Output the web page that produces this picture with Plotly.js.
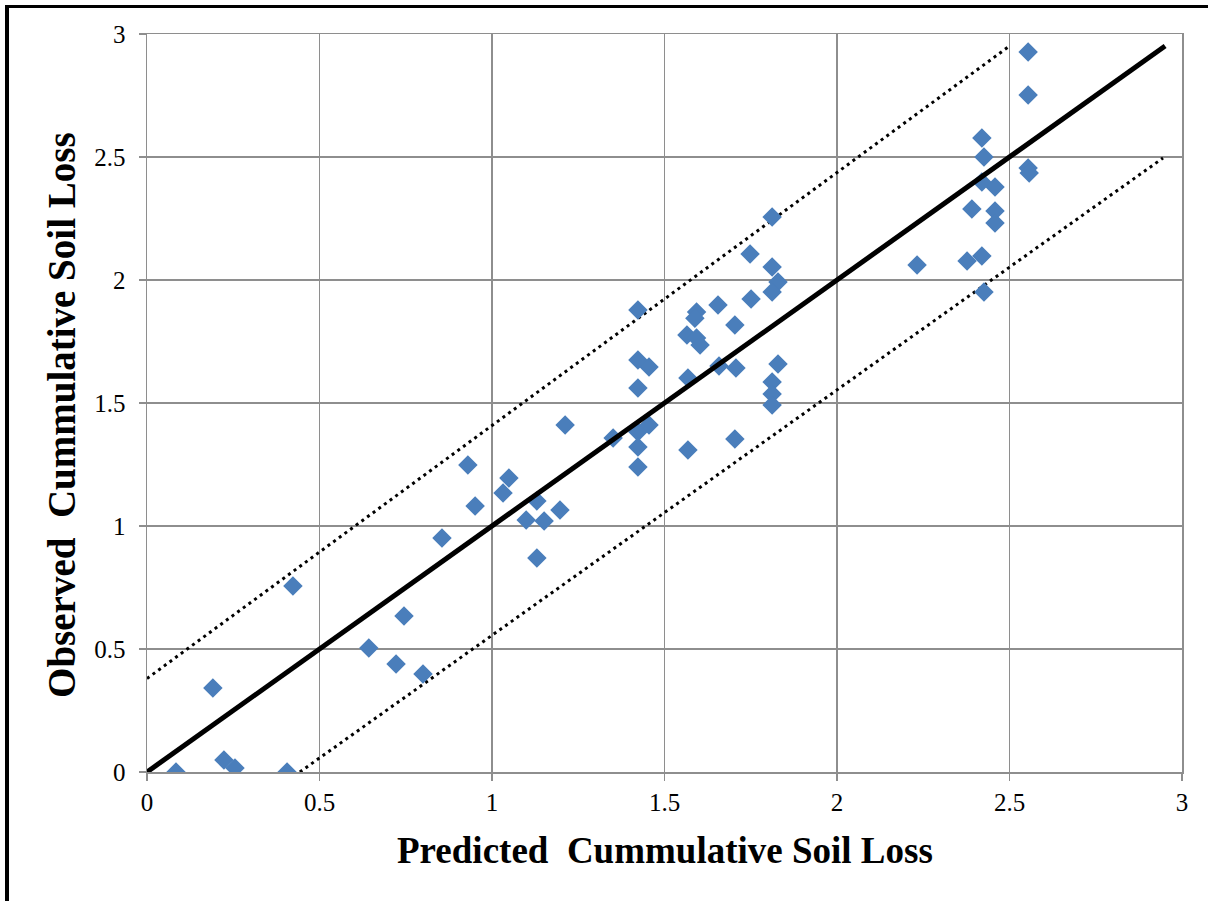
<!DOCTYPE html>
<html>
<head>
<meta charset="utf-8">
<script src="https://cdn.plot.ly/plotly-3.0.1.min.js"></script>
<style>
html,body{margin:0;padding:0;background:#fff;}
#wrap{position:relative;width:1208px;height:901px;overflow:hidden;}
#chart{position:absolute;left:0;top:0;width:1208px;height:901px;}
#frame{position:absolute;left:5px;top:5px;width:1220px;height:920px;border-left:4px solid #000;border-top:3px solid #000;pointer-events:none;}
</style>
</head>
<body>
<div id="wrap"><div id="chart"></div><div id="frame"></div></div>
<script>
// Observed vs predicted cumulative soil loss
const predicted = [0.084,0.191,0.223,0.255,0.406,0.423,0.643,0.722,0.745,0.800,0.855,0.930,0.951,1.032,1.049,1.099,1.130,1.130,1.151,1.197,1.212,1.351,1.423,1.423,1.423,1.423,1.423,1.423,1.455,1.455,1.568,1.568,1.565,1.593,1.588,1.593,1.603,1.655,1.704,1.658,1.707,1.704,1.751,1.748,1.812,1.812,1.829,1.812,1.829,1.812,1.812,1.812,2.232,2.377,2.391,2.420,2.426,2.420,2.458,2.458,2.458,2.420,2.426,2.554,2.554,2.554,2.557];
const observed  = [0.000,0.341,0.049,0.016,0.000,0.756,0.504,0.439,0.634,0.398,0.951,1.248,1.081,1.134,1.195,1.024,1.102,0.870,1.020,1.065,1.411,1.358,1.878,1.675,1.561,1.382,1.321,1.240,1.646,1.411,1.602,1.309,1.776,1.870,1.845,1.764,1.736,1.898,1.817,1.650,1.642,1.354,1.923,2.106,2.256,2.053,1.992,1.951,1.659,1.585,1.537,1.492,2.061,2.077,2.289,2.577,2.500,2.398,2.378,2.280,2.232,2.098,1.951,2.927,2.752,2.455,2.435];
// 1:1 line and upper / lower bounds (endpoints)
const lineX  = [0, 2.951];
const lineY  = [0, 2.951];
const upperX = [0, 2.496];
const upperY = [0.38, 2.947];
const lowerX = [0.443, 2.945];
const lowerY = [0, 2.496];
const tickVals = [0,0.5,1,1.5,2,2.5,3];
const tickText = ['0','0.5','1','1.5','2','2.5','3'];
const xTitle = 'Predicted\u00a0\u00a0Cummulative Soil Loss';
const yTitle = 'Observed\u00a0\u00a0Cummulative Soil Loss';

const traces = [
  {x: upperX, y: upperY, mode:'lines', line:{color:'#000', width:3, dash:'3px,4px'}, hoverinfo:'skip'},
  {x: lowerX, y: lowerY, mode:'lines', line:{color:'#000', width:3, dash:'3px,4px'}, hoverinfo:'skip'},
  {x: predicted, y: observed, mode:'markers', marker:{symbol:'diamond', size:15, color:'#4a7ebb'}},
  {x: lineX, y: lineY, mode:'lines', line:{color:'#000', width:5}, hoverinfo:'skip'}
];

const serif = '"Liberation Serif", "Times New Roman", serif';

const layout = {
  width:1208, height:901,
  margin:{l:147, r:26, t:34, b:129, pad:0},
  paper_bgcolor:'#fff', plot_bgcolor:'#fff',
  showlegend:false,
  xaxis:{
    range:[0,3], tickvals:tickVals, ticktext:tickText,
    showgrid:true, gridcolor:'#8e8e8e', gridwidth:1.5,
    showline:true, linecolor:'#8e8e8e', linewidth:1.5, mirror:true,
    ticks:'outside', ticklen:7, tickcolor:'#8e8e8e', tickwidth:1.5,
    tickfont:{family:serif, size:25, color:'#000'}, zeroline:false,
    automargin:false
  },
  yaxis:{
    range:[0,3], tickvals:tickVals, ticktext:tickText,
    showgrid:true, gridcolor:'#8e8e8e', gridwidth:1.5,
    showline:true, linecolor:'#8e8e8e', linewidth:1.5, mirror:true,
    ticks:'outside', ticklen:7, tickcolor:'#8e8e8e', tickwidth:1.5,
    tickfont:{family:serif, size:25, color:'#000'}, zeroline:false, ticklabelstandoff:8,
    automargin:false
  },
  annotations:[
    {text:'<b>'+xTitle+'</b>', xref:'paper', yref:'paper', x:0.5, y:-0.106, xanchor:'center', yanchor:'middle',
     showarrow:false, font:{family:serif, size:37, color:'#000'}},
    {text:'<b>'+yTitle+'</b>', xref:'paper', yref:'paper', x:-0.082, y:0.484, xanchor:'center', yanchor:'middle',
     textangle:-90, showarrow:false, font:{family:serif, size:39, color:'#000'}}
  ]
};

Plotly.newPlot('chart', traces, layout, {displayModeBar:false, staticPlot:true});
</script>
</body>
</html>
